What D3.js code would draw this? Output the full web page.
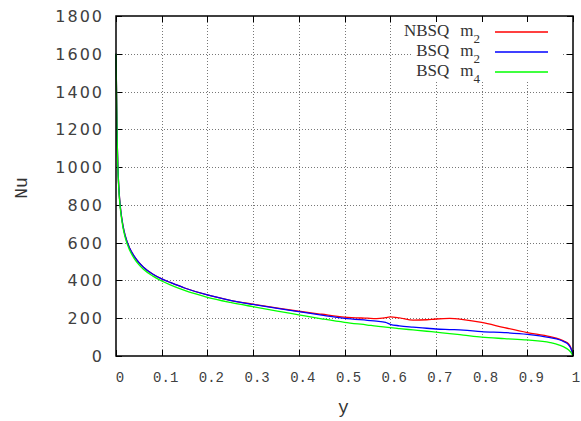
<!DOCTYPE html>
<html>
<head>
<meta charset="utf-8">
<script src="https://cdn.jsdelivr.net/npm/d3@7"></script>
<style>
  body { margin: 0; background: #fff; }
  svg { display: block; }
</style>
</head>
<body>
<div class="chart"></div>
<script>
// position across the channel
const yPos = [0, 0.001, 0.002, 0.004, 0.006, 0.008, 0.01,
    0.015, 0.02, 0.03, 0.04, 0.05, 0.06, 0.08,
    0.1, 0.12, 0.15, 0.2, 0.25, 0.3, 0.35,
    0.4, 0.45, 0.5, 0.55, 0.57, 0.59, 0.6,
    0.62, 0.65, 0.68, 0.7, 0.73, 0.76, 0.8,
    0.85, 0.9, 0.95, 0.97, 0.98, 0.99, 0.995, 1];

const nuNbsqM2 = [1600, 1430, 1230, 1010, 900, 828, 778,
    693, 638, 570, 527, 495, 470, 434,
    408, 388, 360, 323, 295, 274, 255,
    237, 221, 206, 200, 198, 203, 207,
    202, 190, 192, 196, 199, 193, 178,
    150, 124, 102, 89, 79, 65, 45, 5];

const nuBsqM2 = [1600, 1430, 1230, 1010, 900, 828, 778,
    693, 638, 570, 527, 495, 470, 434,
    408, 388, 360, 323, 295, 273, 253,
    235, 216, 199, 189, 185, 178, 168,
    160, 153, 147, 143, 140, 137, 129,
    124, 115, 97, 86, 76, 60, 42, 5];

const nuBsqM4 = [1600, 1420, 1220, 1000, 890, 818, 768,
    684, 628, 560, 516, 484, 459, 424,
    397, 375, 347, 311, 284, 261, 239,
    218, 197, 178, 164, 158, 153, 150,
    145, 138, 131, 126, 119, 111, 100,
    92, 85, 71, 58, 48, 33, 20, 0];

const xTicks = [0, 0.1, 0.2, 0.3, 0.4, 0.5, 0.6, 0.7, 0.8, 0.9, 1];
const yTicks = [0, 200, 400, 600, 800, 1000, 1200, 1400, 1600, 1800];

const seriesNames = ["NBSQ", "BSQ", "BSQ"];
const seriesSubs = ["2", "2", "4"];
const seriesColors = ["#ff0000", "#0000ff", "#00ff00"];
const seriesValues = [nuNbsqM2, nuBsqM2, nuBsqM4];

const width = 581;
const height = 421;
const margin = { top: 16, right: 8, bottom: 65, left: 116 };
const innerWidth = width - margin.left - margin.right;
const innerHeight = height - margin.top - margin.bottom;

const root = d3.select(".chart")
    .append("svg")
    .attr("width", width)
    .attr("height", height);

const xScale = d3.scaleLinear().domain([0, 1]).range([margin.left, margin.left + innerWidth]);
const yScale = d3.scaleLinear().domain([0, 1800]).range([margin.top + innerHeight, margin.top]);
const px = v => Math.round(v) + 0.5;

// grid
root.append("g")
    .selectAll("line")
    .data(xTicks.slice(1, -1))
    .enter()
    .append("line")
    .attr("x1", d => px(xScale(d)))
    .attr("x2", d => px(xScale(d)))
    .attr("y1", margin.top)
    .attr("y2", margin.top + innerHeight)
    .attr("stroke", "#777")
    .attr("stroke-dasharray", "1,2");

root.append("g")
    .selectAll("line")
    .data(yTicks.slice(1, -1))
    .enter()
    .append("line")
    .attr("x1", margin.left)
    .attr("x2", margin.left + innerWidth)
    .attr("y1", d => px(yScale(d)))
    .attr("y2", d => px(yScale(d)))
    .attr("stroke", "#777")
    .attr("stroke-dasharray", "1,2");

// key box hides the grid behind it
root.append("rect")
    .attr("x", 412)
    .attr("y", 22)
    .attr("width", 149)
    .attr("height", 58)
    .attr("fill", "#fff");

// ticks, inward on all four sides
const tickLen = 6;
const ticks = root.append("g").attr("stroke", "#000").attr("stroke-width", 1);
const x0 = margin.left, x1 = margin.left + innerWidth;
const y0 = margin.top, y1 = margin.top + innerHeight;
xTicks.forEach(d => {
    const x = px(xScale(d));
    ticks.append("line").attr("x1", x).attr("x2", x).attr("y1", y1).attr("y2", y1 - tickLen);
    ticks.append("line").attr("x1", x).attr("x2", x).attr("y1", y0).attr("y2", y0 + tickLen);
});
yTicks.forEach(d => {
    const y = px(yScale(d));
    ticks.append("line").attr("x1", x0).attr("x2", x0 + tickLen).attr("y1", y).attr("y2", y);
    ticks.append("line").attr("x1", x1).attr("x2", x1 - tickLen).attr("y1", y).attr("y2", y);
});

// tick labels
root.append("g")
    .selectAll("text")
    .data(yTicks)
    .enter()
    .append("text")
    .attr("x", margin.left - 12)
    .attr("y", d => yScale(d) + 6)
    .attr("text-anchor", "end")
    .attr("font-family", "DejaVu Sans")
    .attr("font-size", 16)
    .attr("letter-spacing", 2)
    .attr("fill", "#404040")
    .text(d => d);

root.append("g")
    .selectAll("text")
    .data(xTicks)
    .enter()
    .append("text")
    .attr("x", d => xScale(d) + (d === 1 ? 3 : 4))
    .attr("y", y1 + 26)
    .attr("text-anchor", "middle")
    .attr("font-family", "Liberation Mono")
    .attr("font-size", 14)
    .attr("fill", "#404040")
    .text(d => d);

// axis labels
root.append("text")
    .attr("x", margin.left + innerWidth / 2 - 1)
    .attr("y", 413)
    .attr("text-anchor", "middle")
    .attr("font-family", "Liberation Mono")
    .attr("font-size", 18)
    .attr("fill", "#333")
    .text("y");

root.append("text")
    .attr("transform", "translate(27, 188) rotate(-90)")
    .attr("text-anchor", "middle")
    .attr("font-family", "Liberation Mono")
    .attr("font-size", 18)
    .attr("fill", "#333")
    .text("Nu");

// curves
const line = d3.line()
    .x((d, i) => xScale(yPos[i]))
    .y(d => yScale(d))
    .curve(d3.curveMonotoneX);

root.selectAll(".curve")
    .data(seriesValues)
    .enter()
    .append("path")
    .attr("class", "curve")
    .attr("d", d => line(d))
    .attr("fill", "none")
    .attr("stroke", (d, i) => seriesColors[i])
    .attr("stroke-width", 1.3);

// key
const key = root.append("g");
seriesNames.forEach((name, i) => {
    const y = 32 + i * 20;
    const t = key.append("text")
        .attr("x", 480)
        .attr("y", y + 4)
        .attr("text-anchor", "end")
        .attr("font-family", "Liberation Serif")
        .attr("font-size", 17)
        .attr("fill", "#333");
    t.append("tspan").text(name);
    t.append("tspan").attr("dx", 11).text("m");
    t.append("tspan").attr("dy", 7).attr("font-size", 13).text(seriesSubs[i]);
    key.append("line")
        .attr("x1", 495)
        .attr("x2", 548)
        .attr("y1", y)
        .attr("y2", y)
        .attr("stroke", seriesColors[i])
        .attr("stroke-width", 1.3);
});

// border
root.append("rect")
    .attr("x", x0)
    .attr("y", y0)
    .attr("width", innerWidth)
    .attr("height", innerHeight)
    .attr("fill", "none")
    .attr("stroke", "#000")
    .attr("stroke-width", 1.5);
</script>
</body>
</html>
